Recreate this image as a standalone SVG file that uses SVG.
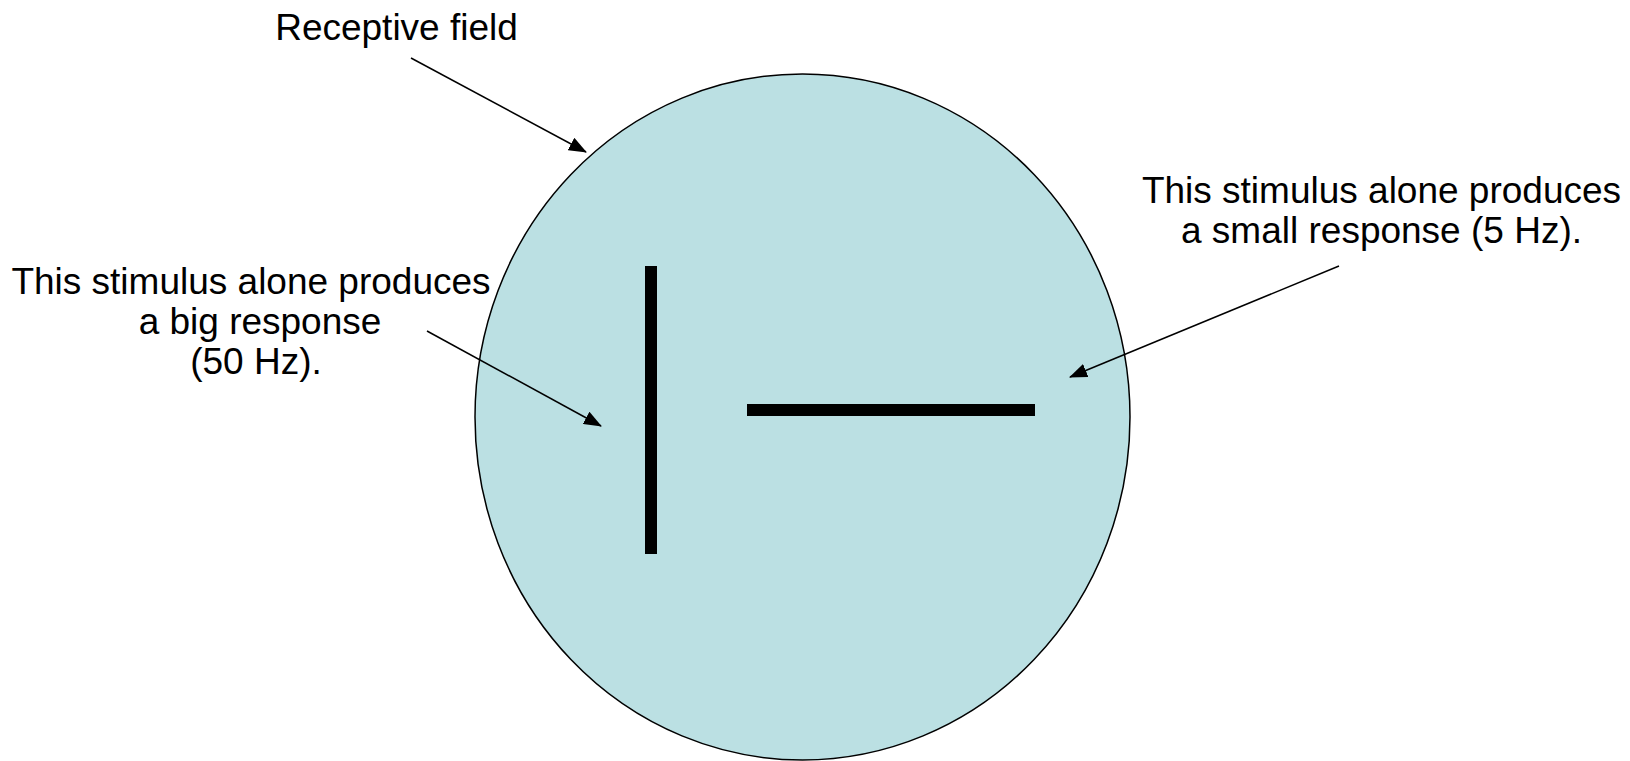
<svg xmlns="http://www.w3.org/2000/svg" width="1630" height="761" viewBox="0 0 1630 761">
<style>
.t{font-family:"Liberation Sans",Arial,sans-serif;font-size:37px;fill:#000;text-anchor:middle}
.c{stroke:#000;stroke-width:1.5;fill:none}
</style>
<defs>
<marker id="ah" markerUnits="userSpaceOnUse" markerWidth="18" markerHeight="14" viewBox="0 0 18 14" refX="17" refY="7" orient="auto">
<path d="M0,0 L18,7 L0,14 Z" fill="#000"/>
</marker>
</defs>
<rect width="1630" height="761" fill="#fff"/>
<g id="field">
<ellipse cx="802.5" cy="417" rx="327.5" ry="343" fill="#BBE0E3" stroke="#000" stroke-width="1.5"/>
</g>
<g id="vbar"><rect x="645" y="266" width="12" height="288" fill="#000"/></g>
<g id="hbar"><rect x="747" y="404" width="288" height="12" fill="#000"/></g>
<g id="label-field"><text class="t" x="396.5" y="40">Receptive field</text></g>
<g id="label-big">
<text class="t" x="251" y="294">This stimulus alone produces</text>
<text class="t" x="260" y="334">a big response</text>
<text class="t" x="256" y="374">(50 Hz).</text>
</g>
<g id="label-small">
<text class="t" x="1381.5" y="203">This stimulus alone produces</text>
<text class="t" x="1381.5" y="243">a small response (5 Hz).</text>
</g>
<g id="connectors">
<line class="c" x1="411" y1="58" x2="586" y2="152" marker-end="url(#ah)"/>
<line class="c" x1="427" y1="331" x2="601" y2="426" marker-end="url(#ah)"/>
<line class="c" x1="1339" y1="266" x2="1070" y2="377" marker-end="url(#ah)"/>
</g>
</svg>
